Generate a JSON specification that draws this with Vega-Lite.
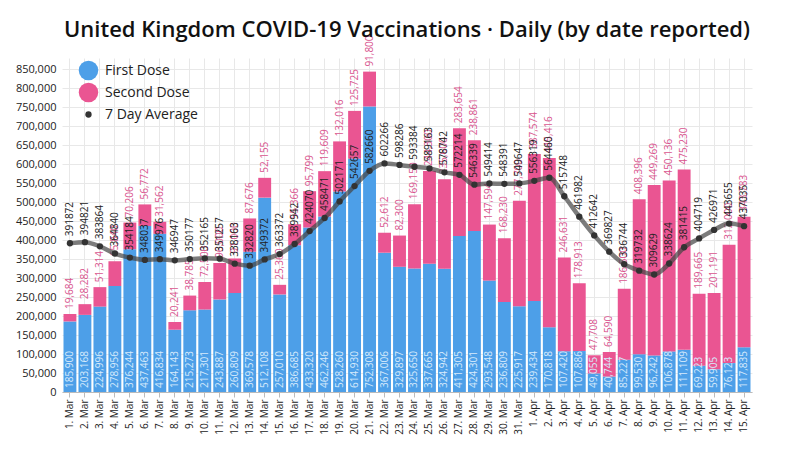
{
  "$schema": "https://vega.github.io/schema/vega-lite/v6.json",
  "autosize": {"type": "none"},
  "padding": {"left": 62, "top": 58, "right": 48, "bottom": 58},
  "width": 690,
  "height": 334,
  "background": "#ffffff",
  "title": {
    "text": "United Kingdom COVID-19 Vaccinations · Daily (by date reported)",
    "font": "Open Sans",
    "fontSize": 22,
    "fontWeight": 600,
    "color": "#111111",
    "anchor": "middle",
    "frame": "group",
    "offset": 0,
    "dy": 7
  },
  "data": {
    "values": [
      {"d": "1. Mar", "first": 185900, "second": 19684, "avg": 391872},
      {"d": "2. Mar", "first": 203168, "second": 28282, "avg": 394821},
      {"d": "3. Mar", "first": 224996, "second": 51314, "avg": 383864},
      {"d": "4. Mar", "first": 278956, "second": 65840, "avg": 364840},
      {"d": "5. Mar", "first": 376244, "second": 70206, "avg": 354184},
      {"d": "6. Mar", "first": 437463, "second": 56772, "avg": 348037},
      {"d": "7. Mar", "first": 416834, "second": 31562, "avg": 349976},
      {"d": "8. Mar", "first": 164143, "second": 20241, "avg": 346947},
      {"d": "9. Mar", "first": 215273, "second": 38785, "avg": 350177},
      {"d": "10. Mar", "first": 217301, "second": 72500, "avg": 352165},
      {"d": "11. Mar", "first": 243887, "second": 96000, "avg": 351257},
      {"d": "12. Mar", "first": 260809, "second": 91000, "avg": 338163},
      {"d": "13. Mar", "first": 369578, "second": 87676, "avg": 332820},
      {"d": "14. Mar", "first": 512108, "second": 52155, "avg": 349372},
      {"d": "15. Mar", "first": 257010, "second": 25360, "avg": 363372},
      {"d": "16. Mar", "first": 386685, "second": 55366, "avg": 389942},
      {"d": "17. Mar", "first": 433320, "second": 95799, "avg": 424070},
      {"d": "18. Mar", "first": 462246, "second": 119609, "avg": 458471},
      {"d": "19. Mar", "first": 528260, "second": 132016, "avg": 502171},
      {"d": "20. Mar", "first": 614930, "second": 125725, "avg": 542657},
      {"d": "21. Mar", "first": 752308, "second": 91800, "avg": 582660},
      {"d": "22. Mar", "first": 367006, "second": 52612, "avg": 602266},
      {"d": "23. Mar", "first": 329897, "second": 82300, "avg": 598286},
      {"d": "24. Mar", "first": 325650, "second": 169150, "avg": 593384},
      {"d": "25. Mar", "first": 337665, "second": 244300, "avg": 589163},
      {"d": "26. Mar", "first": 324942, "second": 235600, "avg": 578742},
      {"d": "27. Mar", "first": 411305, "second": 283654, "avg": 572214},
      {"d": "28. Mar", "first": 424301, "second": 238861, "avg": 546339},
      {"d": "29. Mar", "first": 293548, "second": 147594, "avg": 549414},
      {"d": "30. Mar", "first": 236809, "second": 168230, "avg": 548391},
      {"d": "31. Mar", "first": 225917, "second": 277700, "avg": 549647},
      {"d": "1. Apr", "first": 239434, "second": 387574, "avg": 556319},
      {"d": "2. Apr", "first": 170818, "second": 445416, "avg": 564460},
      {"d": "3. Apr", "first": 107420, "second": 246631, "avg": 515748},
      {"d": "4. Apr", "first": 107886, "second": 178913, "avg": 461982},
      {"d": "5. Apr", "first": 49055, "second": 47708, "avg": 412642},
      {"d": "6. Apr", "first": 40744, "second": 64590, "avg": 369827},
      {"d": "7. Apr", "first": 85227, "second": 186500, "avg": 336744},
      {"d": "8. Apr", "first": 99530, "second": 408396, "avg": 319732},
      {"d": "9. Apr", "first": 96242, "second": 449269, "avg": 309629},
      {"d": "10. Apr", "first": 106878, "second": 450136, "avg": 338624},
      {"d": "11. Apr", "first": 111109, "second": 475230, "avg": 381415},
      {"d": "12. Apr", "first": 69223, "second": 189665, "avg": 404719},
      {"d": "13. Apr", "first": 59905, "second": 201191, "avg": 426971},
      {"d": "14. Apr", "first": 76123, "second": 312000, "avg": 443655},
      {"d": "15. Apr", "first": 117835, "second": 343783, "avg": 437035}
    ]
  },
  "encoding": {
    "x": {
      "field": "d",
      "type": "ordinal",
      "sort": null,
      "title": null,
      "scale": {"paddingInner": 0.14, "paddingOuter": 0.1},
      "axis": {
        "labelAngle": 270,
        "labelFontSize": 10,
        "labelColor": "#222222",
        "grid": true,
        "gridColor": "#e8e8e8",
        "domainColor": "#bbbbbb",
        "tickColor": "#bbbbbb"
      }
    }
  },
  "layer": [
    {
      "transform": [{"fold": ["first", "second"], "as": ["dose", "value"]}],
      "mark": {"type": "bar"},
      "encoding": {
        "y": {
          "field": "value",
          "type": "quantitative",
          "stack": "zero",
          "title": null,
          "scale": {"domain": [0, 880000], "nice": false}
        },
        "color": {
          "field": "dose",
          "type": "nominal",
          "scale": {"domain": ["first", "second", "7 Day Average"], "range": ["#4d9fe8", "#ea5592", "#333333"]},
          "legend": {
            "title": null,
            "orient": "none",
            "legendX": 16,
            "legendY": 2,
            "labelExpr": "datum.value == 'first' ? 'First Dose' : datum.value == 'second' ? 'Second Dose' : '7 Day Average'",
            "symbolType": "circle",
            "symbolSize": 380,
            "labelFontSize": 14,
            "labelColor": "#222222",
            "labelOffset": 6,
            "rowPadding": 1,
            "encode": {
              "symbols": {
                "update": {
                  "size": {"signal": "datum.value == '7 Day Average' ? 40 : 380"}
                }
              }
            }
          }
        },
        "order": {"field": "dose"}
      }
    },
    {
      "mark": {"type": "text", "angle": 270, "align": "left", "baseline": "middle", "dx": 4, "fontSize": 10, "color": "#d6eafc"},
      "encoding": {
        "y": {"datum": 0, "type": "quantitative", "title": null},
        "text": {"field": "first", "type": "quantitative", "format": ","}
      }
    },
    {
      "transform": [
        {"fold": ["first", "second"], "as": ["dose", "value"]},
        {"joinaggregate": [{"op": "sum", "field": "value", "as": "total"}], "groupby": ["d"]},
        {"filter": "datum.dose == 'second'"}
      ],
      "mark": {"type": "text", "angle": 270, "align": "left", "baseline": "middle", "dx": 5, "fontSize": 10, "color": "#d9568f"},
      "encoding": {
        "y": {"field": "total", "type": "quantitative", "title": null},
        "text": {"field": "second", "type": "quantitative", "format": ","}
      }
    },
    {
      "mark": {"type": "line", "color": "#444444", "strokeWidth": 4.5, "opacity": 0.7, "interpolate": "monotone"},
      "encoding": {
        "y": {"field": "avg", "type": "quantitative", "title": null}
      }
    },
    {
      "mark": {"type": "point", "filled": true, "opacity": 1, "size": 40},
      "encoding": {
        "y": {"field": "avg", "type": "quantitative", "title": null},
        "color": {"datum": "7 Day Average"}
      }
    },
    {
      "mark": {"type": "text", "angle": 270, "align": "left", "baseline": "middle", "dx": 7, "fontSize": 10, "color": "#222222"},
      "encoding": {
        "y": {"field": "avg", "type": "quantitative", "title": null},
        "text": {"field": "avg", "type": "quantitative", "format": "d"}
      }
    }
  ],
  "config": {
    "font": "Open Sans",
    "numberFormat": ",d",
    "view": {"stroke": null},
    "axisY": {
      "tickCount": 18,
      "labelOverlap": false,
      "labelFontSize": 11,
      "labelColor": "#222222",
      "gridColor": "#e8e8e8",
      "domain": false,
      "ticks": false,
      "labelPadding": 6
    }
  }
}
